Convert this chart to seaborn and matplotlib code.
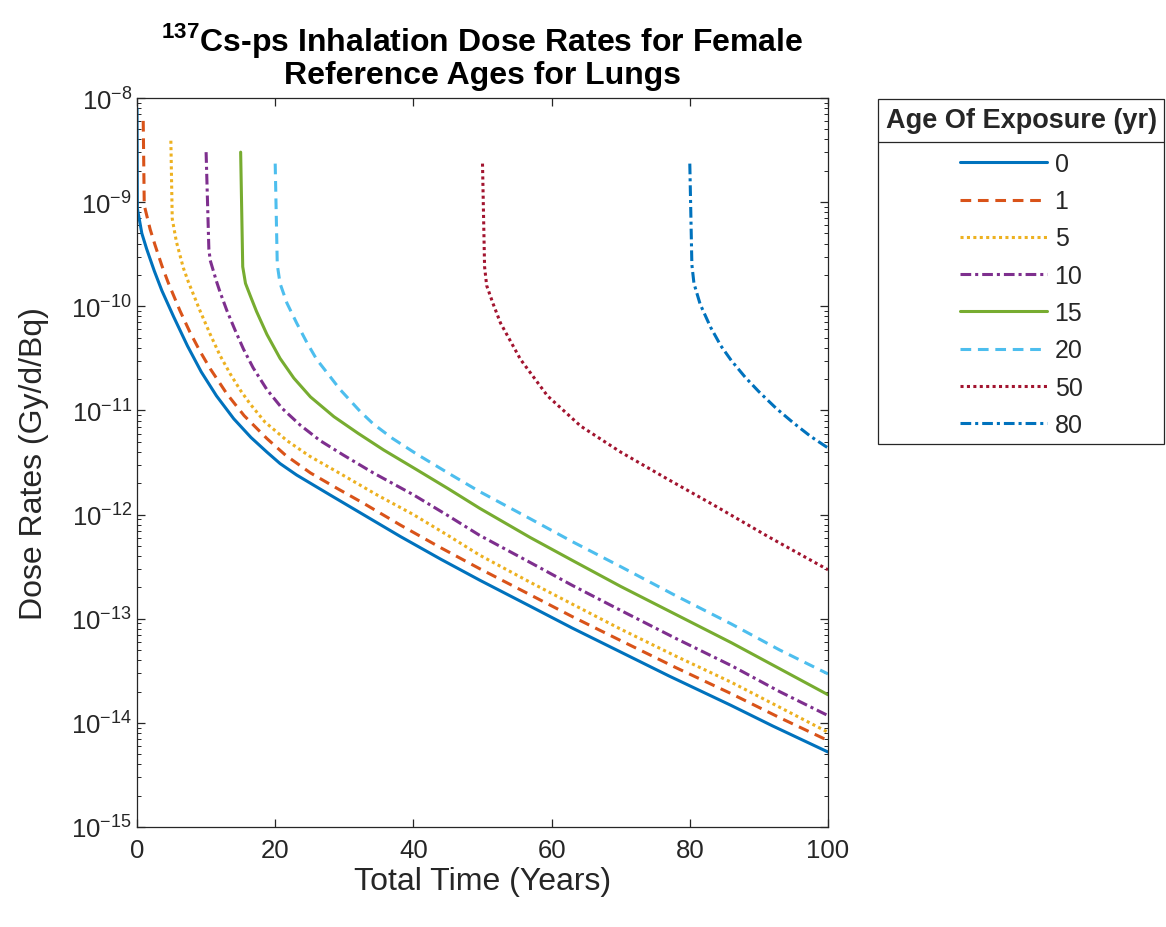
import numpy as np
import pandas as pd
import matplotlib
matplotlib.use('Agg')
import matplotlib.pyplot as plt
import seaborn as sns
from matplotlib.ticker import LogLocator, NullFormatter, FixedLocator
from matplotlib.lines import Line2D

# values (time in years, log10 of dose rate in Gy/d/Bq)
t_0 = [0, 0.05, 0.7, 1.4, 2.5, 3.6, 5.3, 7.3, 9.3, 11.5, 14.0, 16.5, 18.8, 20.7, 23.1,
       27.9, 33, 38.1, 44, 49.6, 56.9, 63, 70, 77, 85.9, 92, 100]
logd_0 = [-8.10, -9.06, -9.30, -9.45, -9.66, -9.85, -10.10, -10.38, -10.63, -10.86, -11.08,
          -11.26, -11.40, -11.51, -11.62, -11.81, -12.01, -12.21, -12.43, -12.63, -12.88,
          -13.09, -13.32, -13.55, -13.83, -14.03, -14.28]

t_1 = [0.9, 1.05, 1.9, 2.6, 3.6, 4.5, 6.2, 7.6, 9.1, 10.6, 13.0, 15.5, 18.8, 21.5, 25.1,
       29, 33, 38.1, 44, 49.6, 56.9, 63, 70, 78, 86, 93, 100]
logd_1 = [-8.22, -9.03, -9.26, -9.41, -9.61, -9.77, -10.04, -10.24, -10.43, -10.60, -10.84,
          -11.05, -11.27, -11.43, -11.60, -11.75, -11.90, -12.10, -12.32, -12.52, -12.77,
          -12.98, -13.21, -13.47, -13.72, -13.95, -14.17]

t_5 = [4.9, 5.1, 5.7, 6.7, 7.4, 9.1, 10.6, 12.0, 13.5, 15.0, 16.4, 18.5, 21.7, 25, 29.5,
       34.7, 40, 45, 49.6, 56.9, 63, 70, 78, 86, 93, 100]
logd_5 = [-8.41, -9.16, -9.38, -9.63, -9.76, -10.04, -10.27, -10.47, -10.65, -10.81, -10.94,
          -11.11, -11.29, -11.44, -11.61, -11.81, -12.00, -12.20, -12.39, -12.65, -12.86,
          -13.10, -13.36, -13.61, -13.85, -14.09]

t_10 = [10.0, 10.4, 10.6, 11.5, 12.0, 13.0, 14.2, 15.4, 16.8, 18.8, 21, 23.6, 26.5, 29.9,
        34.2, 40, 45, 49.6, 56.9, 63, 70, 78, 86, 93, 100]
logd_10 = [-8.52, -9.45, -9.56, -9.76, -9.86, -10.04, -10.23, -10.41, -10.59, -10.80, -10.98,
           -11.14, -11.29, -11.43, -11.60, -11.81, -12.01, -12.20, -12.46, -12.68, -12.92,
           -13.19, -13.45, -13.70, -13.93]

t_15 = [15.0, 15.3, 15.7, 16.4, 17.3, 18.8, 20.7, 22.7, 25.1, 28.5, 32, 35.7, 40.5, 45,
        49.6, 56.9, 63, 70, 78, 86, 93, 100]
logd_15 = [-8.52, -9.62, -9.78, -9.90, -10.05, -10.27, -10.50, -10.69, -10.87, -11.06, -11.22,
           -11.38, -11.57, -11.75, -11.94, -12.22, -12.44, -12.69, -12.96, -13.23, -13.48,
           -13.73]

t_20 = [20.0, 20.3, 20.7, 21.7, 23.1, 24.6, 26.0, 28.0, 29.4, 32.3, 34.2, 37, 40.5, 45,
        49.6, 56.9, 63, 70, 78, 86, 93, 100]
logd_20 = [-8.63, -9.60, -9.78, -9.97, -10.16, -10.35, -10.51, -10.68, -10.80, -11.01, -11.13,
           -11.27, -11.42, -11.60, -11.78, -12.04, -12.26, -12.50, -12.78, -13.05, -13.30,
           -13.53]

t_50 = [50.0, 50.3, 50.6, 51.5, 52.6, 55.5, 59.4, 64.2, 70.0, 76.8, 83.5, 91.3, 100]
logd_50 = [-8.63, -9.62, -9.80, -9.97, -10.16, -10.51, -10.86, -11.15, -11.40, -11.66, -11.91,
           -12.21, -12.53]

t_80 = [80.0, 80.3, 80.6, 81.5, 83.0, 84.5, 86, 88, 90, 92.5, 95, 97.5, 100]
logd_80 = [-8.63, -9.60, -9.78, -9.98, -10.20, -10.38, -10.52, -10.68, -10.82, -10.98, -11.12,
           -11.25, -11.36]

ages = ['0', '1', '5', '10', '15', '20', '50', '80']
times = [t_0, t_1, t_5, t_10, t_15, t_20, t_50, t_80]
logdoses = [logd_0, logd_1, logd_5, logd_10, logd_15, logd_20, logd_50, logd_80]

colors = ['#0072BD', '#D95319', '#EDB120', '#7E2F8E', '#77AC30', '#4DBEEE', '#A2142F', '#0072BD']
dash_solid = ''
dash_dash = (3.5, 2.2)
dash_dot = (1, 1.1)
dash_dashdot = (3.5, 1.3, 1, 1.3)
dash_list = [dash_solid, dash_dash, dash_dot, dash_dashdot,
             dash_solid, dash_dash, dash_dot, dash_dashdot]

frames = []
for a, t, ld in zip(ages, times, logdoses):
    frames.append(pd.DataFrame({'time': t, 'dose': 10 ** np.array(ld), 'age': a}))
df = pd.concat(frames, ignore_index=True)

sns.set_style('ticks')
plt.rcParams['font.family'] = ['Liberation Sans', 'DejaVu Sans']
plt.rcParams['mathtext.fontset'] = 'custom'
plt.rcParams['mathtext.rm'] = 'Liberation Sans'
plt.rcParams['mathtext.bf'] = 'Liberation Sans:bold'
plt.rcParams['text.color'] = '#262626'
plt.rcParams['axes.labelcolor'] = '#262626'
plt.rcParams['xtick.color'] = '#262626'
plt.rcParams['ytick.color'] = '#262626'

fig = plt.figure(figsize=(11.66, 9.28), dpi=100)
ax = fig.add_axes([137 / 1166, 1 - 828 / 928, (828 - 137) / 1166, (828 - 99) / 928])

sns.lineplot(data=df, x='time', y='dose', hue='age', style='age',
             hue_order=ages, style_order=ages,
             palette=dict(zip(ages, colors)), dashes=dict(zip(ages, dash_list)),
             estimator=None, errorbar=None, linewidth=2.2, ax=ax)

ax.set_yscale('log')
ax.set_xlim(0, 100)
ax.set_ylim(1e-15, 1e-8)
ax.xaxis.set_major_locator(FixedLocator([0, 20, 40, 60, 80, 100]))
ax.yaxis.set_major_locator(LogLocator(base=10, numticks=20))
ax.yaxis.set_minor_locator(LogLocator(base=10, subs=np.arange(2, 10), numticks=20))
ax.yaxis.set_minor_formatter(NullFormatter())
ax.tick_params(which='both', direction='in', top=True, right=True, labelsize=18.5)
ax.tick_params(axis='x', pad=8)
ax.tick_params(which='major', length=6, width=0.9)
ax.tick_params(which='minor', length=3, width=0.7)
for s in ax.spines.values():
    s.set_color('#262626')
    s.set_linewidth(0.9)

ax.set_xlabel('Total Time (Years)', fontsize=23, labelpad=3)
ax.set_ylabel('Dose Rates (Gy/d/Bq)', fontsize=23, labelpad=16)
ax.set_title('$^{\\mathbf{137}}$Cs-ps Inhalation Dose Rates for Female\nReference Ages for Lungs',
             fontsize=23, fontweight='bold', color='black', pad=11, linespacing=1.05)

sns.move_legend(ax, 'upper left', bbox_to_anchor=(878 / 1166, 1 - 100 / 928),
                bbox_transform=fig.transFigure, borderaxespad=0,
                title='Age Of Exposure (yr)', frameon=True, fancybox=False,
                edgecolor='#262626', framealpha=1, fontsize=18,
                title_fontproperties={'weight': 'bold', 'size': 19.5},
                handlelength=3.48, handletextpad=0.32, labelspacing=0.53,
                borderpad=0.3)
leg = ax.get_legend()
leg.get_frame().set_linewidth(0.9)
# a little more room between the title and the entries
leg._legend_box.sep = leg._legend_box.sep + 4.5

# separator line under the legend title
fig.canvas.draw()
lb = leg.get_window_extent()
tb = leg.get_title().get_window_extent()
fb = leg.get_texts()[0].get_window_extent()
sep_y = (tb.y0 + tb.y1) / 2 - ((tb.y0 + tb.y1) / 2 - (fb.y0 + fb.y1) / 2) / 2
fig.add_artist(Line2D([lb.x0 / fig.bbox.width, lb.x1 / fig.bbox.width],
                      [sep_y / fig.bbox.height, sep_y / fig.bbox.height],
                      transform=fig.transFigure, color='#262626', linewidth=0.9))

fig.savefig('out.png', dpi=100, facecolor='white')
